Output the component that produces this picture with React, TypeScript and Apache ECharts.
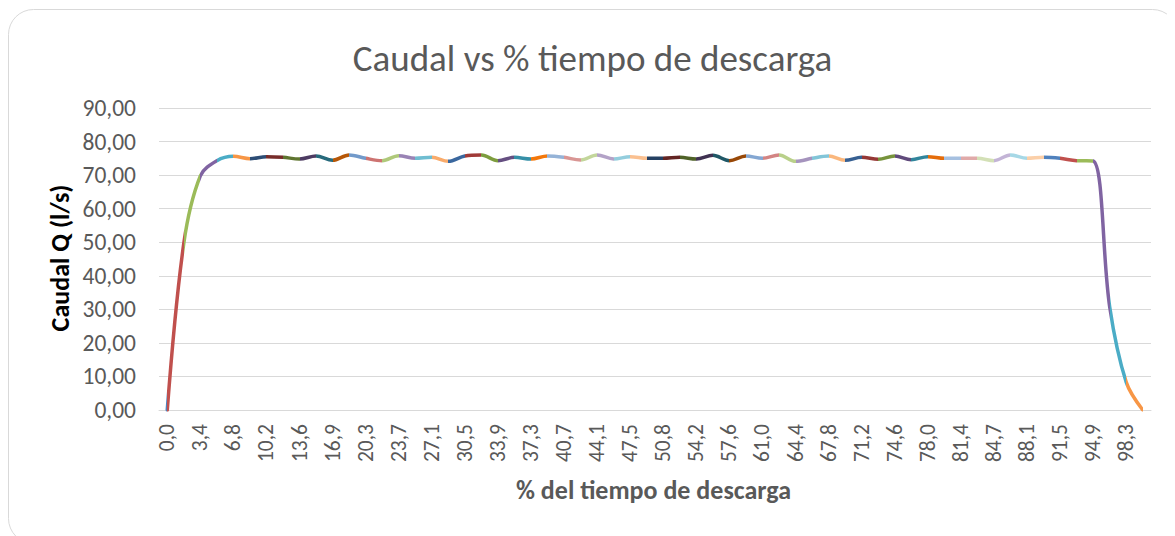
import React, { useEffect, useRef } from "react";
import * as echarts from "echarts";

const categories: string[] = [
  "0,0", "1,7", "3,4", "5,1", "6,8", "8,5", "10,2", "11,9", "13,6", "15,3",
  "16,9", "18,6", "20,3", "22,0", "23,7", "25,4", "27,1", "28,8", "30,5", "32,2",
  "33,9", "35,6", "37,3", "39,0", "40,7", "42,4", "44,1", "45,8", "47,5", "49,2",
  "50,8", "52,5", "54,2", "55,9", "57,6", "59,3", "61,0", "62,7", "64,4", "66,1",
  "67,8", "69,5", "71,2", "72,9", "74,6", "76,3", "78,0", "79,7", "81,4", "83,1",
  "84,7", "86,4", "88,1", "89,8", "91,5", "93,2", "94,9", "96,6", "98,3", "100,0",
];

const caudal: number[] = [
  0, 49.7, 69.8, 74.3, 75.6, 74.9, 75.5, 75.3, 74.8, 75.7,
  74.4, 76.0, 75.0, 74.3, 75.8, 75.0, 75.3, 74.1, 75.7, 76.0,
  74.3, 75.3, 74.8, 75.7, 75.3, 74.5, 76.0, 74.8, 75.5, 75.0,
  75.0, 75.3, 74.8, 75.9, 74.3, 75.7, 75.0, 76.0, 74.1, 75.0,
  75.7, 74.4, 75.3, 74.7, 75.7, 74.6, 75.5, 75.0, 75.0, 75.0,
  74.3, 76.0, 75.0, 75.3, 75.0, 74.3, 74.2, 30.8, 8.3, 0,
];

const yTicks: number[] = [0, 10, 20, 30, 40, 50, 60, 70, 80, 90];

// point colours (Excel "vary colours by point"), one per point
const pointColors: string[] = [
  "#4F81BD", "#C0504D", "#9BBB59", "#8064A2", "#4BACC6", "#F79646",
  "#2C4D75", "#772C2A", "#5F7530", "#4D3B62", "#276A7C", "#B65708",
  "#729ACA", "#CD7371", "#AFC97A", "#9983B5", "#6FBDD1", "#F9AB6B",
  "#3A679E", "#A03A38", "#7D9D3E", "#654F81", "#358FA7", "#F3770A",
  "#95B3D7", "#D99694", "#C3D69B", "#B3A2C7", "#93CDDD", "#FAC090",
  "#244062", "#632523", "#4F6228", "#3F3151", "#205867", "#984807",
  "#84A7D2", "#D38483", "#B9D08A", "#A593BD", "#82C5D8", "#FAB77D",
  "#376092", "#953735", "#77933C", "#604A7B", "#31859C", "#E46C0A",
  "#A6C0E0", "#E0AAA9", "#D3E0B6", "#C3B4D6", "#A6D8E6", "#FBCFA8",
  "#4F81BD", "#C0504D", "#9BBB59", "#8064A2", "#4BACC6", "#F79646",
];

const FONT = "Carlito, Calibri, Lato, sans-serif";

export default function App() {
  const ref = useRef<HTMLDivElement>(null);

  useEffect(() => {
    if (!ref.current) return;
    const chart = echarts.init(ref.current, null, { renderer: "svg" });

    const pieces = pointColors.map((c, i) =>
      i === 0 ? { lte: 0, color: c } : { gt: i - 1, lte: i, color: c }
    );

    chart.setOption({
      animation: false,
      backgroundColor: "#ffffff",
      textStyle: { fontFamily: FONT },
      grid: { left: 151, top: 100, width: 992, height: 302, containLabel: false },
      xAxis: {
        type: "category",
        data: categories,
        boundaryGap: true,
        axisLine: { show: true, lineStyle: { color: "#D9D9D9", width: 1 } },
        axisTick: { show: false },
        axisLabel: {
          interval: 1,
          rotate: 90,
          margin: 14,
          color: "#595959",
          fontSize: 21.5,
          fontFamily: FONT,
        },
        splitLine: { show: false },
      },
      yAxis: {
        type: "value",
        min: yTicks[0],
        max: yTicks[yTicks.length - 1],
        interval: 10,
        axisLine: { show: false },
        axisTick: { show: false },
        axisLabel: {
          margin: 23,
          color: "#595959",
          fontSize: 23.5,
          fontFamily: FONT,
          formatter: (v: number) => v.toFixed(2).replace(".", ","),
        },
        splitLine: { show: true, lineStyle: { color: "#D9D9D9", width: 1 } },
      },
      visualMap: {
        type: "piecewise",
        show: false,
        dimension: 0,
        seriesIndex: 0,
        pieces,
      },
      series: [
        {
          type: "line",
          data: caudal,
          smooth: 0.35,
          showSymbol: false,
          lineStyle: { width: 3.5, cap: "round" },
        },
      ],
      graphic: [
        {
          type: "rect",
          shape: { x: 0.5, y: 1.5, width: 1169, height: 534, r: 25 },
          style: { fill: "none", stroke: "#D9D9D9", lineWidth: 1 },
          silent: true,
          z: -1,
        },
        {
          type: "text",
          x: 584.5,
          y: 50,
          style: {
            text: "Caudal vs % tiempo de descarga",
            fill: "#595959",
            font: `37px ${FONT}`,
            align: "center",
            verticalAlign: "middle",
          },
        },
        {
          type: "text",
          x: 52,
          y: 250,
          rotation: Math.PI / 2,
          style: {
            text: "Caudal Q (l/s)",
            fill: "#000000",
            font: `bold 26px ${FONT}`,
            align: "center",
            verticalAlign: "middle",
          },
        },
        {
          type: "text",
          x: 645.5,
          y: 482,
          style: {
            text: "% del tiempo de descarga",
            fill: "#595959",
            font: `bold 26px ${FONT}`,
            align: "center",
            verticalAlign: "middle",
          },
        },
      ],
    });

    return () => chart.dispose();
  }, []);

  return <div ref={ref} style={{ width: 1167, height: 528 }} />;
}
